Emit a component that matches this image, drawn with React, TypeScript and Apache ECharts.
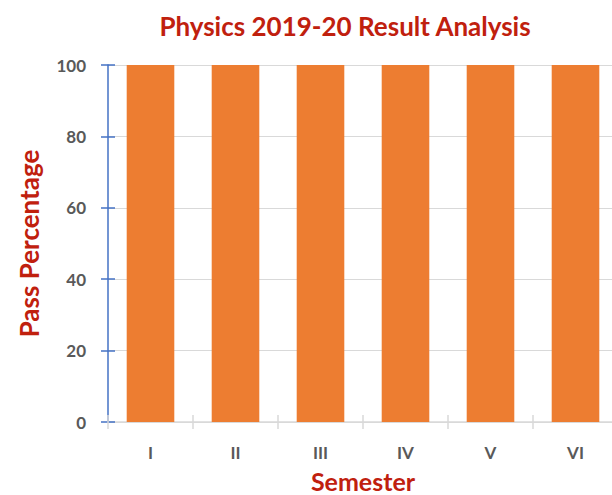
import React, { useEffect, useRef } from "react";
import * as echarts from "echarts";

const categories = ["I", "II", "III", "IV", "V", "VI"];
const passPercentage = [100, 100, 100, 100, 100, 100];
const yTicks = { min: 0, max: 100, interval: 20 };

const RED = "#C0200E";
const GRAY = "#595959";
const FONT = "Lato";

export default function App() {
  const ref = useRef<HTMLDivElement>(null);
  useEffect(() => {
    const chart = echarts.init(ref.current!, null, { renderer: "svg" });
    const grid = { left: 108, top: 65, width: 510, height: 357, containLabel: false, outerBoundsMode: "none" };
    chart.setOption({
      animation: false,
      backgroundColor: "#ffffff",
      title: {
        text: "Physics 2019-20 Result Analysis",
        left: 340,
        textAlign: "center",
        top: 8,
        textStyle: { color: RED, fontSize: 26, fontWeight: "bold", fontFamily: FONT },
      },
      grid,
      xAxis: [
        {
          type: "category",
          data: categories,
          name: "Semester",
          nameLocation: "middle",
          nameGap: 46,
          nameTextStyle: { color: RED, fontSize: 25, fontWeight: "bold", fontFamily: FONT },
          axisLine: { show: true, lineStyle: { color: "#d9d9d9", width: 1.5 } },
          axisTick: { show: true, length: 7, lineStyle: { color: "#d9d9d9", width: 1.5 } },
          axisLabel: { color: GRAY, fontSize: 17, fontWeight: "bold", fontFamily: FONT, margin: 22 },
        },
        {
          type: "category",
          data: categories,
          position: "bottom",
          axisLine: { show: false },
          axisTick: { show: true, inside: true, length: 7, lineStyle: { color: "#d9d9d9", width: 1.5 } },
          axisLabel: { show: false },
        },
      ],
      yAxis: [
        {
          type: "value",
          min: yTicks.min,
          max: yTicks.max,
          interval: yTicks.interval,
          name: "Pass Percentage",
          nameLocation: "middle",
          nameGap: 66,
          nameTextStyle: { color: RED, fontSize: 26, fontWeight: "bold", fontFamily: FONT },
          axisLine: { show: true, lineStyle: { color: "#4472C4", width: 1.5 } },
          axisTick: { show: true, length: 7, lineStyle: { color: "#4472C4", width: 1.5 } },
          axisLabel: { color: GRAY, fontSize: 17, fontWeight: "bold", fontFamily: FONT, margin: 22 },
          splitLine: { show: true, lineStyle: { color: "#d9d9d9", width: 1 } },
        },
        {
          type: "value",
          min: yTicks.min,
          max: yTicks.max,
          interval: yTicks.interval,
          position: "left",
          axisLine: { show: false },
          axisTick: { show: true, inside: true, length: 7, lineStyle: { color: "#4472C4", width: 1.5 } },
          axisLabel: { show: false },
          splitLine: { show: false },
        },
      ],
      series: [
        {
          type: "bar",
          data: passPercentage,
          barCategoryGap: "44%",
          itemStyle: { color: "#ED7D31" },
        },
      ],
    });
    return () => chart.dispose();
  }, []);
  return <div ref={ref} style={{ width: 612, height: 495, position: "absolute", left: 0, top: 0 }} />;
}
